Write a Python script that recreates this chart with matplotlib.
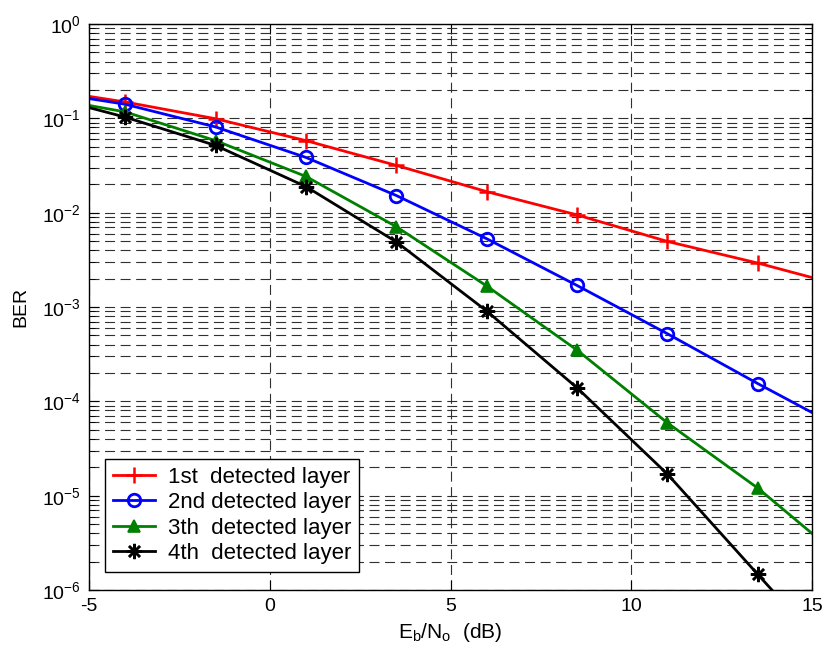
import matplotlib

matplotlib.use("Agg")
import matplotlib.pyplot as plt
from matplotlib.ticker import LogLocator, NullFormatter

plt.rcParams["font.family"] = ["Liberation Sans", "DejaVu Sans"]
plt.rcParams["mathtext.fontset"] = "custom"
plt.rcParams["mathtext.rm"] = "Liberation Sans"
plt.rcParams["mathtext.it"] = "Liberation Sans"
plt.rcParams["axes.unicode_minus"] = False

# Eb/No points (dB); markers at the inner points every 2.5 dB
ebno = [-5, -4, -1.5, 1, 3.5, 6, 8.5, 11, 13.5, 15]

ber_layer1 = [0.171, 0.149, 0.099, 0.058, 0.0317, 0.0167, 0.00946, 0.00495, 0.00292, 0.00205]
ber_layer2 = [0.162, 0.141, 0.081, 0.0385, 0.0152, 0.00529, 0.00169, 5.2e-4, 1.54e-4, 7.6e-5]
ber_layer3 = [0.137, 0.117, 0.058, 0.0242, 0.0071, 0.00167, 3.49e-4, 5.9e-5, 1.2e-5, 3.97e-6]
ber_layer4 = [0.130, 0.103, 0.0516, 0.0189, 0.0049, 9.06e-4, 1.39e-4, 1.69e-5, 1.46e-6, 3.4e-7]

x_ticks = [-5, 0, 5, 10, 15]
y_ticks = [1e-6, 1e-5, 1e-4, 1e-3, 1e-2, 1e-1, 1e0]

labels = [
    "1st  detected layer",
    "2nd detected layer",
    "3th  detected layer",
    "4th  detected layer",
]

styles = [
    dict(color="#ff0000", marker="+", markersize=11, markeredgewidth=1.8),
    dict(color="#0000ff", marker="o", markersize=9, markerfacecolor="none", markeredgewidth=2.0),
    dict(color="#008000", marker="^", markersize=8, markeredgewidth=1.2),
    dict(color="#000000", marker=(8, 2, 0), markersize=11, markeredgewidth=1.8),
]

fig = plt.figure(figsize=(8.27, 6.59), dpi=100)
ax = fig.add_axes([0.1076, 0.1047, 0.8744, 0.8589])

for ber, label, style in zip([ber_layer1, ber_layer2, ber_layer3, ber_layer4], labels, styles):
    ax.semilogy(ebno, ber, linewidth=2.0, markevery=slice(1, 9), label=label, **style)

ax.set_xlim(-5, 15)
ax.set_ylim(1e-6, 1)
ax.set_xticks(x_ticks)
ax.set_yticks(y_ticks)
ax.yaxis.set_minor_locator(LogLocator(base=10, subs=range(2, 10), numticks=100))
ax.yaxis.set_minor_formatter(NullFormatter())

grid_style = dict(color="#303030", linestyle=(0, (9, 5)), linewidth=0.8)
ax.grid(True, which="major", axis="both", **grid_style)
ax.grid(True, which="minor", axis="y", **grid_style)

ax.tick_params(which="both", direction="in", top=True, right=True, labelsize=14)
ax.tick_params(which="major", length=7, pad=6)
ax.tick_params(which="minor", length=4)
for spine in ax.spines.values():
    spine.set_linewidth(1.0)

ax.set_xlabel(r"$\mathregular{E_b/N_o}$  (dB)", fontsize=15, labelpad=4)
ax.set_ylabel("BER", fontsize=14)
ax.yaxis.set_label_coords(-0.083, 0.5)

leg = ax.legend(
    loc="lower left",
    bbox_to_anchor=(0.022, 0.032),
    borderaxespad=0,
    fontsize=16,
    fancybox=False,
    framealpha=1,
    edgecolor="black",
    handlelength=1.9,
    handletextpad=0.6,
    labelspacing=0.2,
    borderpad=0.35,
)
leg.get_frame().set_linewidth(1.0)

fig.savefig("out.png", dpi=100, facecolor="white")
